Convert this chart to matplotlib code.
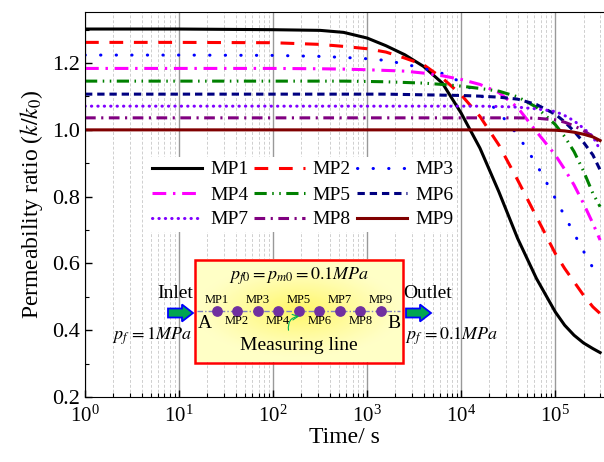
import numpy as np
import matplotlib
matplotlib.use('Agg')
import matplotlib.pyplot as plt
from matplotlib.patches import Rectangle, Polygon

plt.rcParams['font.family'] = ['Liberation Serif', 'DejaVu Serif']
plt.rcParams['mathtext.fontset'] = 'stix'

# Data (time in s, permeability ratio k/k0)
time = [1, 10, 100, 316, 562, 1000, 1585, 2512, 3981, 6310, 10000, 15849,
        25119, 39811, 63096, 100000, 125893, 158489, 199526, 251189, 300000]

mp1 = [1.302, 1.302, 1.300, 1.298, 1.292, 1.275, 1.252, 1.225, 1.190, 1.140, 1.050,
       0.945, 0.815, 0.675, 0.555, 0.455, 0.415, 0.385, 0.362, 0.345, 0.333]
mp2 = [1.262, 1.262, 1.261, 1.256, 1.250, 1.243, 1.233, 1.215, 1.195, 1.155, 1.105,
       1.040, 0.955, 0.850, 0.740, 0.630, 0.585, 0.545, 0.505, 0.470, 0.450]
mp3 = [1.224, 1.224, 1.223, 1.220, 1.217, 1.213, 1.208, 1.197, 1.184, 1.169, 1.143,
       1.106, 1.053, 0.985, 0.897, 0.795, 0.742, 0.690, 0.637, 0.587, 0.556]
mp4 = [1.184, 1.184, 1.184, 1.183, 1.182, 1.180, 1.178, 1.176, 1.170, 1.162, 1.151,
       1.136, 1.112, 1.067, 0.995, 0.925, 0.882, 0.835, 0.780, 0.720, 0.670]
mp5 = [1.146, 1.146, 1.146, 1.146, 1.146, 1.145, 1.144, 1.142, 1.140, 1.136, 1.131,
       1.124, 1.116, 1.099, 1.068, 1.016, 0.980, 0.935, 0.877, 0.810, 0.770]
mp6 = [1.107, 1.107, 1.107, 1.107, 1.107, 1.107, 1.107, 1.106, 1.105, 1.104, 1.103,
       1.101, 1.098, 1.092, 1.076, 1.047, 1.024, 0.996, 0.963, 0.925, 0.880]
mp7 = [1.071, 1.071, 1.071, 1.071, 1.071, 1.071, 1.071, 1.071, 1.071, 1.071, 1.071,
       1.071, 1.070, 1.068, 1.063, 1.055, 1.043, 1.027, 1.005, 0.980, 0.940]
mp8 = [1.036, 1.036, 1.036, 1.036, 1.036, 1.036, 1.036, 1.036, 1.036, 1.036, 1.036,
       1.036, 1.036, 1.036, 1.035, 1.030, 1.023, 1.012, 0.998, 0.980, 0.962]
mp9 = [1.000, 1.000, 1.000, 1.000, 1.000, 1.000, 1.000, 1.000, 1.000, 1.000, 1.000,
       1.000, 1.000, 1.000, 1.000, 0.999, 0.997, 0.993, 0.987, 0.979, 0.968]

labels = ['MP1', 'MP2', 'MP3', 'MP4', 'MP5', 'MP6', 'MP7', 'MP8', 'MP9']
series = [mp1, mp2, mp3, mp4, mp5, mp6, mp7, mp8, mp9]
colors = ['black', 'red', 'blue', 'magenta', 'green', '#000080', '#8000ff', '#800080', '#800000']
dashes = [None, (4.5, 3.5), (0.1, 5.0), (4.5, 2.2, 0.8, 2.2), (4.0, 1.8, 0.5, 1.8, 0.5, 1.8),
          (2.4, 1.6), (0.1, 2.0), (3.5, 1.8, 0.7, 1.8), None]

fig = plt.figure(figsize=(6.04, 4.62), dpi=100)
ax = fig.add_axes([85 / 604, 1 - 397 / 462, 519 / 604, 385 / 462])

lines = []
for lab, y, c, d in zip(labels, series, colors, dashes):
    line, = ax.plot(time, y, color=c, lw=2.2, label=lab)
    if d is not None:
        line.set_dashes(d)
        if d[0] < 0.5:
            line.set_dash_capstyle('round')
    lines.append(line)

ax.set_xscale('log')
ax.set_xlim(1, 3.3e5)
ax.set_ylim(0.2, 1.353)
ax.set_yticks([0.2, 0.4, 0.6, 0.8, 1.0, 1.2])
ax.set_yticklabels(['0.2', '0.4', '0.6', '0.8', '1.0', '1.2'])
ax.set_yticks(np.arange(0.3, 1.35, 0.2), minor=True)
ax.tick_params(which='major', direction='in', length=5, width=1, labelsize=15)
ax.tick_params(axis='y', labelsize=16)
ax.tick_params(which='minor', direction='in', length=3, width=0.8)
ax.tick_params(axis='x', pad=6)
ax.spines['right'].set_visible(False)
ax.grid(which='major', axis='x', color='#999999', lw=1.0, ls='-')
ax.grid(which='minor', axis='x', color='#cfcfcf', lw=0.7, ls=(0, (3, 2)))
ax.set_xlabel('Time/ s', fontsize=17, labelpad=0)
ax.set_ylabel('Permeability ratio ($k/k_0$)', fontsize=17, labelpad=5)

# legend filled row by row
order = [0, 3, 6, 1, 4, 7, 2, 5, 8]
ax.legend([lines[i] for i in order], [labels[i] for i in order], ncol=3,
          loc='upper left', bbox_to_anchor=(148 / 604, 1 - 157 / 462),
          bbox_transform=fig.transFigure, fontsize=14, frameon=True, framealpha=1,
          edgecolor='none', facecolor='white', fancybox=False, borderpad=0.2,
          borderaxespad=0, handlelength=2.6, handletextpad=0.4, columnspacing=0.3,
          labelspacing=0.38)

# schematic overlay in pixel coordinates
ov = fig.add_axes([0, 0, 1, 1], zorder=5)
ov.axis('off')
ov.patch.set_alpha(0)

bx0, bx1, by0, by1 = 195, 402.5, 260, 362.5
gx, gy = np.meshgrid(np.linspace(-1, 1, 200), np.linspace(-1, 1, 100))
r = np.clip(np.sqrt(gx ** 2 + (gy * 1.1) ** 2), 0, 1)
img = np.zeros((100, 200, 3))
img[..., 0] = 1.0
img[..., 1] = 1.0 - 0.03 * (1 - r)
img[..., 2] = 0.78 - 0.38 * (1 - r) ** 1.2
ov.imshow(img, extent=(bx0, bx1, by1, by0), aspect='auto', zorder=1)
ov.add_patch(Rectangle((bx0, by0), bx1 - bx0, by1 - by0, fill=False, ec='red', lw=1.8, zorder=3))
ov.set_xlim(0, 604)
ov.set_ylim(462, 0)

ov.text(299, 276, '$p_{f0}=p_{m0}=0.1MPa$', fontsize=13, ha='center', va='center', zorder=4)
ov.plot([197, 400], [311, 311], color='#8080c0', lw=1.0, ls=(0, (4, 1.5, 1, 1.5)), zorder=3)
dot_x = np.linspace(216.5, 381, 9)
ov.scatter(dot_x, [311] * 9, s=45, color='#7030a0', zorder=4)
for i, xx in enumerate(dot_x):
    yy = 300 if i % 2 == 0 else 321.5
    ov.text(xx, yy, 'MP%d' % (i + 1), fontsize=9, ha='center', va='center', zorder=4)
ov.text(205, 323, 'A', fontsize=14, ha='center', va='center', zorder=4)
ov.text(394, 323, 'B', fontsize=14, ha='center', va='center', zorder=4)
ov.text(299, 345, 'Measuring line', fontsize=14, ha='center', va='center', zorder=4)
ov.annotate('', xy=(302, 316), xytext=(289, 333), zorder=4,
            arrowprops=dict(arrowstyle='->', color='#00b050', lw=0.8,
                            connectionstyle='arc3,rad=-0.6'))


def arrow(x0, yc):
    pts = [(x0, yc - 4.5), (x0 + 14, yc - 4.5), (x0 + 14, yc - 8.5), (x0 + 25, yc),
           (x0 + 14, yc + 8.5), (x0 + 14, yc + 4.5), (x0, yc + 4.5)]
    ov.add_patch(Polygon(pts, closed=True, fc='#00a550', ec='#0000ff', lw=1.3, zorder=4))


arrow(168, 313)
arrow(406, 313)
ov.text(175, 293, 'Inlet', fontsize=14, ha='center', va='center', zorder=4)
ov.text(428, 293, 'Outlet', fontsize=14, ha='center', va='center', zorder=4)
ov.text(152, 336, '$p_f\\,=1MPa$', fontsize=13, ha='center', va='center', zorder=4)
ov.text(452, 336, '$p_f\\,=0.1MPa$', fontsize=13, ha='center', va='center', zorder=4)

fig.savefig('out.png', dpi=100)
